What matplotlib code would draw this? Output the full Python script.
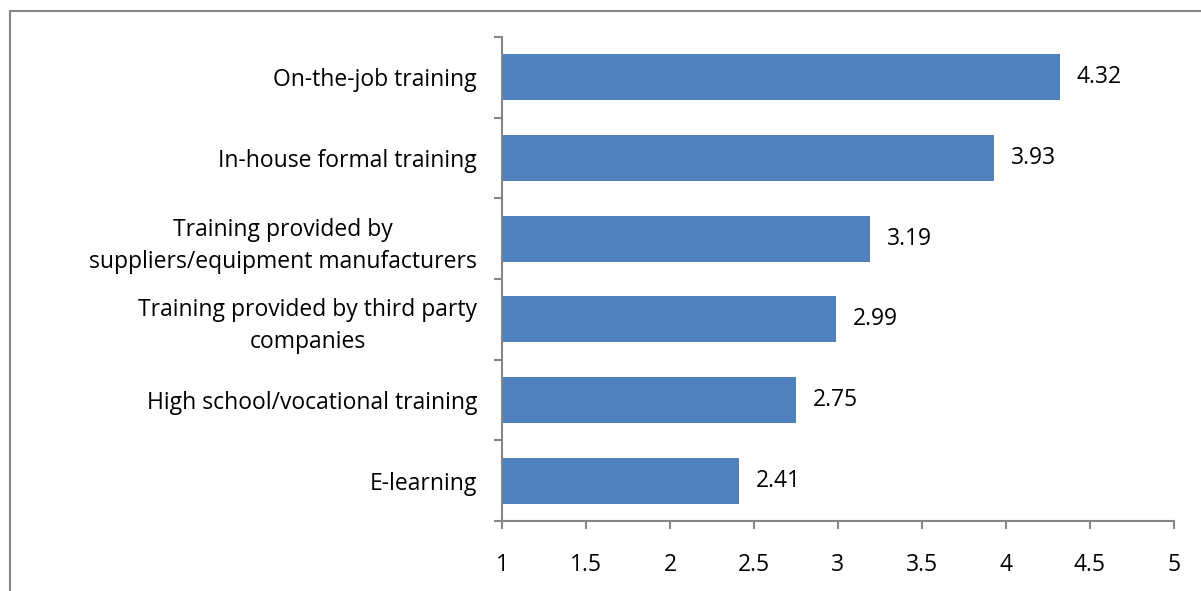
import matplotlib.pyplot as plt
import numpy as np
from matplotlib.patches import Rectangle

categories = ["On-the-job training",
              "In-house formal training",
              "Training provided by\nsuppliers/equipment manufacturers",
              "Training provided by third party\ncompanies",
              "High school/vocational training",
              "E-learning"]
values = [4.32, 3.93, 3.19, 2.99, 2.75, 2.41]
xticks = [1, 1.5, 2, 2.5, 3, 3.5, 4, 4.5, 5]

plt.rcParams['font.family'] = ['Open Sans', 'DejaVu Sans']
fs = 16.5

fig = plt.figure(figsize=(12.01, 5.91), dpi=100)
ax = fig.add_axes([0.418, 0.1184, 0.5595, 0.819])

# outer border of the chart area (clipped on right/bottom like the reference)
fig.patches.append(Rectangle((10/1201, -0.1), 1.2, 1 - 11/591 + 0.1,
                             transform=fig.transFigure, fill=False,
                             edgecolor='#868686', linewidth=1.5))

y = np.arange(len(categories))
ax.barh(y, [v - 1 for v in values], left=1, height=0.57, color='#4F81BD')
for yi, v in zip(y, values):
    ax.text(v + 0.1, yi, f"{v:.2f}", va='center', ha='left', fontsize=fs)

ax.set_xlim(1, 5)
ax.set_ylim(len(categories) - 0.5, -0.5)
ax.set_xticks(xticks)
ax.set_xticklabels([f"{t:g}" for t in xticks], fontsize=fs)
ax.set_yticks(y)
ax.set_yticklabels(categories, fontsize=fs, multialignment='center', linespacing=1.45)
ax.set_yticks(np.arange(len(categories) + 1) - 0.5, minor=True)

for s in ['top', 'right']:
    ax.spines[s].set_visible(False)
for s in ['left', 'bottom']:
    ax.spines[s].set_color('#868686')
    ax.spines[s].set_linewidth(1.5)

ax.tick_params(axis='y', which='major', length=0, pad=18)
ax.tick_params(axis='y', which='minor', length=6, width=1.5, color='#868686')
ax.tick_params(axis='x', which='major', length=6, width=1.5, color='#868686', pad=17)

fig.savefig('out.png', dpi=100)
